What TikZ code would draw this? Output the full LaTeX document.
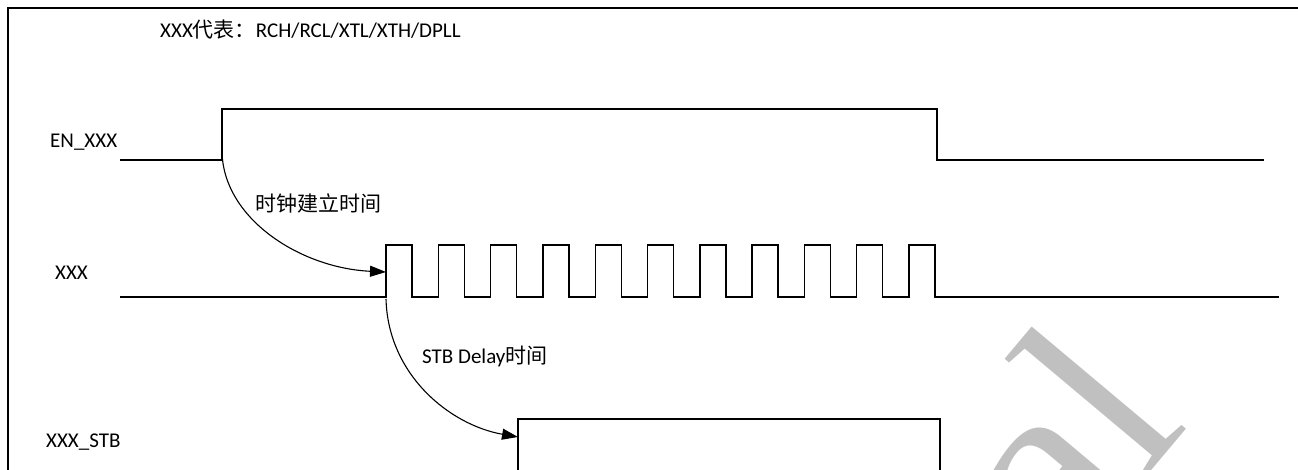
\documentclass[tikz,border=0pt]{standalone}
\usepackage{fontspec}
\setmainfont{Carlito}
\newfontfamily\cjk{Noto Sans CJK SC}
\newfontfamily\wmfont{Liberation Serif}
\usetikzlibrary{arrows.meta}
\definecolor{wm}{RGB}{192,192,192}
\begin{document}
\begin{tikzpicture}[x=1pt,y=-1pt,
  wave/.style={line width=1.4pt, line join=miter},
  lbl/.style={anchor=base west, inner sep=0pt, font=\fontsize{21}{24}\selectfont},
  ann/.style={anchor=base west, inner sep=0pt, font=\fontsize{21}{24}\selectfont},
  conn/.style={line width=1.1pt, -{Triangle[length=16pt,width=11pt]}}]
\useasboundingbox (0,0) rectangle (1298,469);
\clip (0,0) rectangle (1298,469);
% watermark
\node[text=wm, rotate=50, anchor=base east, inner sep=0pt, font=\wmfont\fontsize{265}{290}\selectfont] (wm) at (1190,425) {Confidential};
% border
\draw[line width=2.6pt] (8,480) -- (8,8) -- (1310,8);
% waveforms
\draw[wave] (120,160) -- (222,160) -- (222,109) -- (937,109) -- (937,160) -- (1264,160);
\draw[wave] (120,297) foreach \i in {0,...,10} { -- ({386+52.3*\i},297) -- ({386+52.3*\i},245) -- ({412+52.3*\i},245) -- ({412+52.3*\i},297) } -- (1279,297);
\draw[wave] (518,480) -- (518,419) -- (940,419) -- (940,480);
% labels
\node[lbl] (title) at (160,37) {XXX{\cjk 代表：}RCH/RCL/XTL/XTH/DPLL};
\node[lbl] (en) at (50,147) {EN\_XXX};
\node[lbl] (xxx) at (55,279) {XXX};
\node[lbl] (stb) at (46,447) {XXX\_STB};
\node[ann] (t1) at (255,211) {\cjk 时钟建立时间};
\node[ann] (t2) at (422,363) {STB Delay{\cjk 时间}};
% connectors
\coordinate (a1s) at (222,150);
\coordinate (a1e) at (386,272);
\coordinate (a2s) at (386,299);
\coordinate (a2e) at (518,437);
\draw[conn] (a1s) .. controls (222,218) and (300,268) .. (a1e);
\draw[conn] (a2s) .. controls (388,375) and (450,425) .. (a2e);
\end{tikzpicture}
\end{document}
